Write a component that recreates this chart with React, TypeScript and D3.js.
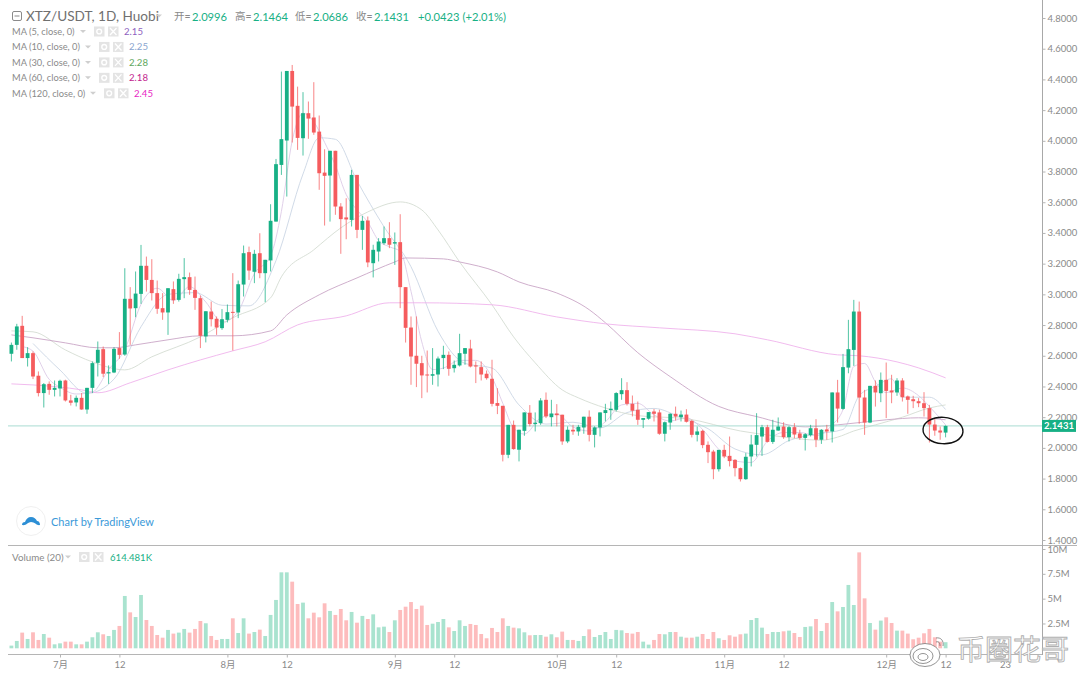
import React, { useEffect, useRef } from "react";
import * as d3 from "d3";

// one value per daily candle
const opens = [
  2.613, 2.671, 2.795, 2.585, 2.617, 2.47, 2.357, 2.417, 2.378, 2.387,
  2.439, 2.309, 2.296, 2.326, 2.25, 2.391, 2.554, 2.643, 2.485, 2.491,
  2.65, 2.608, 2.971, 2.91, 3.003, 3.186, 3.094, 3.008, 2.91, 2.882,
  3.034, 2.964, 3.099, 3.112, 3.029, 2.975, 2.726, 2.888, 2.841, 2.78,
  2.834, 2.886, 2.882, 3.064, 3.275, 3.147, 3.268, 3.138, 3.221, 3.474,
  3.843, 4.002, 4.455, 4.228, 4.017, 4.18, 4.152, 4.06, 3.793, 3.774,
  3.935, 3.572, 3.501, 3.485, 3.778, 3.42, 3.481, 3.203, 3.279, 3.333,
  3.366, 3.331, 3.34, 3.047, 2.784, 2.6, 2.552, 2.478, 2.47, 2.478,
  2.585, 2.606, 2.519, 2.537, 2.613, 2.647, 2.537, 2.526, 2.483, 2.45,
  2.292, 2.274, 1.955, 2.15, 1.988, 2.111, 2.229, 2.155, 2.161, 2.313,
  2.2, 2.224, 2.216, 2.042, 2.118, 2.107, 2.133, 2.203, 2.085, 2.133,
  2.227, 2.246, 2.248, 2.35, 2.376, 2.287, 2.248, 2.183, 2.19, 2.237,
  2.231, 2.092, 2.165, 2.222, 2.2, 2.217, 2.176, 2.085, 2.111, 2.02,
  1.976, 1.861, 1.987, 1.948, 1.922, 1.868, 1.796, 1.944, 2.02, 2.074,
  2.135, 2.039, 2.113, 2.139, 2.07, 2.135, 2.094, 2.065, 2.083, 2.128,
  2.053, 2.12, 2.107, 2.361, 2.254, 2.523, 2.638, 2.888, 2.328, 2.165,
  2.404, 2.356, 2.443, 2.374, 2.361, 2.439, 2.335, 2.317, 2.304, 2.291,
  2.259, 2.152, 2.113, 2.0996,
];
const highs = [
  2.686, 2.808, 2.86, 2.656, 2.628, 2.498, 2.422, 2.433, 2.439, 2.444,
  2.444, 2.346, 2.341, 2.357, 2.391, 2.563, 2.693, 2.66, 2.537, 2.656,
  2.754, 3.17, 3.047, 3.149, 3.322, 3.246, 3.229, 3.09, 3.008, 3.04,
  3.084, 3.134, 3.236, 3.142, 3.116, 2.992, 2.89, 2.953, 2.856, 2.904,
  2.934, 3.138, 3.09, 3.318, 3.311, 3.29, 3.398, 3.225, 3.587, 3.882,
  4.451, 4.455, 4.494, 4.353, 4.317, 4.256, 4.382, 4.165, 3.945, 3.935,
  3.935, 3.594, 3.626, 3.811, 3.778, 3.511, 3.507, 3.323, 3.366, 3.442,
  3.47, 3.403, 3.522, 3.047, 2.856, 2.856, 2.6, 2.634, 2.65, 2.595,
  2.665, 2.628, 2.569, 2.743, 2.65, 2.704, 2.563, 2.563, 2.504, 2.574,
  2.389, 2.274, 2.15, 2.178, 2.118, 2.231, 2.279, 2.231, 2.324, 2.361,
  2.313, 2.285, 2.216, 2.14, 2.15, 2.15, 2.203, 2.244, 2.14, 2.231,
  2.287, 2.302, 2.363, 2.454, 2.428, 2.341, 2.302, 2.194, 2.233, 2.253,
  2.248, 2.172, 2.226, 2.269, 2.243, 2.252, 2.183, 2.139, 2.118, 2.042,
  1.987, 1.987, 2.02, 2.074, 1.927, 1.872, 1.966, 2.085, 2.226, 2.15,
  2.15, 2.183, 2.198, 2.167, 2.144, 2.161, 2.118, 2.096, 2.15, 2.187,
  2.122, 2.15, 2.361, 2.443, 2.612, 2.834, 2.964, 2.953, 2.378, 2.404,
  2.439, 2.491, 2.556, 2.476, 2.454, 2.454, 2.341, 2.339, 2.324, 2.363,
  2.28, 2.194, 2.139, 2.1464,
];
const lows = [
  2.563, 2.639, 2.585, 2.53, 2.448, 2.335, 2.263, 2.346, 2.335, 2.335,
  2.302, 2.276, 2.27, 2.248, 2.222, 2.357, 2.465, 2.461, 2.417, 2.487,
  2.58, 2.6, 2.671, 2.851, 2.938, 3.018, 2.96, 2.873, 2.834, 2.736,
  2.938, 2.953, 2.975, 2.997, 2.899, 2.65, 2.687, 2.791, 2.736, 2.769,
  2.817, 2.634, 2.845, 2.986, 3.094, 3.073, 3.105, 2.949, 3.149, 3.474,
  3.778, 3.637, 3.989, 3.941, 3.904, 4.013, 4.039, 3.681, 3.448, 3.474,
  3.518, 3.264, 3.359, 3.442, 3.366, 3.29, 3.177, 3.11, 3.214, 3.323,
  3.301, 3.192, 2.91, 2.686, 2.411, 2.396, 2.324, 2.361, 2.411, 2.4,
  2.513, 2.47, 2.491, 2.53, 2.541, 2.524, 2.422, 2.439, 2.444, 2.27,
  2.22, 1.912, 1.933, 1.988, 1.912, 2.079, 2.14, 2.107, 2.15, 2.194,
  2.14, 2.14, 2.02, 2.031, 2.085, 2.079, 2.092, 2.042, 2.003, 2.075,
  2.172, 2.183, 2.237, 2.313, 2.276, 2.205, 2.15, 2.129, 2.183, 2.172,
  2.085, 2.042, 2.118, 2.178, 2.172, 2.165, 2.068, 2.042, 1.998, 1.901,
  1.796, 1.846, 1.933, 1.879, 1.814, 1.781, 1.792, 1.879, 1.944, 1.948,
  2.035, 2.026, 2.111, 2.059, 2.042, 2.063, 2.053, 1.983, 2.074, 2.005,
  2.026, 2.053, 2.035, 2.165, 2.248, 2.486, 2.534, 2.157, 2.085, 2.161,
  2.269, 2.298, 2.194, 2.291, 2.339, 2.302, 2.222, 2.259, 2.265, 2.204,
  2.035, 2.079, 2.053, 2.0686,
];
const closes = [
  2.671, 2.791, 2.585, 2.617, 2.465, 2.357, 2.415, 2.378, 2.391, 2.437,
  2.309, 2.294, 2.326, 2.25, 2.391, 2.552, 2.639, 2.483, 2.493, 2.645,
  2.606, 2.971, 2.908, 3.005, 3.186, 3.094, 3.008, 2.906, 2.882, 3.04,
  2.962, 3.101, 3.112, 3.029, 2.977, 2.73, 2.89, 2.838, 2.784, 2.838,
  2.884, 2.882, 3.066, 3.268, 3.155, 3.264, 3.138, 3.225, 3.479, 3.848,
  4.011, 4.455, 4.223, 4.019, 4.18, 4.145, 4.054, 3.789, 3.772, 3.935,
  3.572, 3.49, 3.488, 3.778, 3.42, 3.479, 3.208, 3.29, 3.344, 3.366,
  3.323, 3.34, 3.047, 2.782, 2.595, 2.548, 2.472, 2.472, 2.48, 2.582,
  2.606, 2.515, 2.541, 2.617, 2.65, 2.53, 2.53, 2.478, 2.454, 2.287,
  2.274, 1.955, 2.15, 1.992, 2.118, 2.231, 2.155, 2.164, 2.309, 2.205,
  2.224, 2.213, 2.042, 2.118, 2.107, 2.137, 2.203, 2.085, 2.133, 2.231,
  2.246, 2.255, 2.357, 2.376, 2.287, 2.242, 2.183, 2.194, 2.233, 2.222,
  2.092, 2.167, 2.222, 2.204, 2.217, 2.17, 2.085, 2.107, 2.018, 1.972,
  1.861, 1.987, 1.944, 1.914, 1.868, 1.796, 1.942, 2.022, 2.083, 2.135,
  2.039, 2.118, 2.139, 2.07, 2.135, 2.087, 2.065, 2.089, 2.128, 2.053,
  2.118, 2.107, 2.361, 2.256, 2.526, 2.643, 2.888, 2.328, 2.165, 2.404,
  2.361, 2.443, 2.371, 2.361, 2.439, 2.33, 2.313, 2.304, 2.291, 2.259,
  2.152, 2.113, 2.1, 2.1431,
];
// millions
const volumes = [
  0.27, 0.74, 1.58, 0.94, 1.61, 0.84, 1.44, 1.07, 0.4, 0.5,
  0.67, 0.67, 0.4, 0.4, 0.67, 1.11, 1.61, 1.41, 1.24, 1.85,
  2.25, 5.27, 3.62, 3.15, 5.37, 2.85, 2.25, 1.34, 1.07, 1.85,
  1.48, 1.58, 1.95, 1.58, 1.95, 2.75, 2.52, 1.24, 0.84, 0.94,
  0.94, 3.02, 1.54, 3.02, 1.48, 1.64, 1.88, 1.24, 3.36, 4.87,
  7.65, 7.65, 6.71, 4.46, 4.6, 3.02, 3.59, 3.12, 4.53, 3.76,
  3.36, 3.96, 2.82, 3.66, 2.58, 3.26, 2.95, 3.42, 2.11, 2.18,
  1.64, 2.82, 3.86, 4.19, 4.66, 3.96, 4.3, 2.35, 2.48, 2.65,
  2.95, 2.11, 1.74, 2.82, 2.25, 2.45, 2.35, 1.44, 1.01, 2.05,
  1.64, 3.02, 2.25, 2.08, 2.01, 1.61, 1.31, 1.34, 1.34, 1.17,
  1.41, 1.11, 1.68, 0.84, 0.84, 0.74, 1.24, 1.91, 1.14, 1.34,
  1.64, 0.94, 1.85, 1.81, 1.54, 1.48, 1.64, 0.67, 0.37, 0.84,
  1.44, 1.41, 1.64, 1.64, 1.17, 1.07, 1.07, 1.17, 1.44, 0.94,
  1.64, 1.01, 0.84, 1.31, 1.17, 1.41, 1.48, 2.85, 3.05, 2.08,
  1.44, 1.64, 1.64, 1.71, 1.78, 1.54, 1.14, 2.15, 2.21, 2.95,
  1.74, 2.55, 4.66, 3.72, 4.16, 6.38, 4.36, 9.66, 5.03, 2.55,
  1.88, 2.79, 3.12, 2.55, 1.78, 1.78, 1.48, 0.91, 1.07, 1.51,
  1.95, 1.11, 0.67, 0.614,
];

// moving averages: [candle number, value] read at the visible bends
const ma5: [number, number][] = [
  [2, 2.66], [4, 2.63], [7, 2.446], [9, 2.395], [12, 2.351], [15, 2.363], [18, 2.51], [21, 2.64],
  [24, 2.935], [27, 3.04], [30, 2.96], [33, 3.05], [36, 2.95], [39, 2.82], [42, 2.89], [45, 3.135],
  [48, 3.25], [50, 3.54], [52, 4.0], [54, 4.18], [56, 4.124], [58, 3.99], [60, 3.84], [62, 3.65],
  [64, 3.55], [66, 3.47], [68, 3.35], [70, 3.31], [72, 3.28], [74, 3.02], [76, 2.69], [78, 2.51],
  [80, 2.52], [83, 2.57], [86, 2.57], [89, 2.46], [91, 2.29], [93, 2.13], [95, 2.09], [98, 2.195],
  [101, 2.22], [104, 2.136], [107, 2.11], [110, 2.17], [113, 2.28], [116, 2.29], [119, 2.215],
  [122, 2.175], [125, 2.196], [128, 2.12], [131, 1.99], [134, 1.915], [137, 1.905], [140, 2.044],
  [143, 2.1], [146, 2.1], [149, 2.08], [152, 2.15], [154, 2.25], [156, 2.53], [158, 2.55],
  [160, 2.43], [162, 2.36], [165, 2.39], [168, 2.34], [170, 2.27], [173, 2.15],
];
const ma10: [number, number][] = [
  [4, 2.68], [9, 2.507], [14, 2.355], [19, 2.448], [24, 2.789], [29, 3.0], [34, 3.011], [39, 2.929],
  [44, 2.925], [49, 3.22], [54, 3.784], [57, 4.02], [60, 4.01], [64, 3.74], [69, 3.44], [74, 3.18],
  [79, 2.76], [84, 2.55], [89, 2.52], [94, 2.28], [99, 2.155], [104, 2.167], [109, 2.13], [114, 2.23],
  [119, 2.257], [124, 2.198], [129, 2.125], [134, 1.993], [139, 1.955], [144, 2.048], [149, 2.09],
  [154, 2.12], [157, 2.34], [160, 2.4], [163, 2.45], [165, 2.33], [170, 2.33], [173, 2.25],
];
const ma30: [number, number][] = [
  [0, 2.762], [4, 2.756], [10, 2.638], [15, 2.56], [21, 2.508], [26, 2.593], [35, 2.723], [41, 2.847],
  [48, 2.977], [50, 3.114], [56, 3.29], [61, 3.433], [66, 3.537], [72, 3.602], [76, 3.55], [79, 3.42],
  [83, 3.211], [89, 2.932], [93, 2.723], [97, 2.554], [102, 2.378], [105, 2.326], [110, 2.26],
  [116, 2.21], [125, 2.19], [135, 2.11], [141, 2.08], [150, 2.05], [153, 2.07], [156, 2.11],
  [160, 2.15], [165, 2.2], [170, 2.26], [173, 2.28],
];
const ma60: [number, number][] = [
  [0, 2.736], [4, 2.717], [10, 2.684], [16, 2.652], [19, 2.652], [23, 2.671], [29, 2.704], [35, 2.73],
  [41, 2.73], [48, 2.762], [51, 2.866], [57, 2.997], [64, 3.107], [71, 3.211], [73, 3.237], [80, 3.231],
  [83, 3.211], [90, 3.146], [94, 3.081], [101, 3.009], [107, 2.9], [110, 2.815], [116, 2.62],
  [122, 2.464], [131, 2.27], [138, 2.204], [147, 2.137], [153, 2.15], [162, 2.183], [168, 2.196], [173, 2.183],
];
const ma120: [number, number][] = [
  [0, 2.417], [4, 2.41], [13, 2.378], [16, 2.359], [22, 2.424], [29, 2.508], [35, 2.573], [41, 2.632],
  [47, 2.691], [53, 2.801], [62, 2.86], [70, 2.945], [76, 2.945], [89, 2.932], [101, 2.853], [110, 2.808],
  [120, 2.782], [134, 2.743], [140, 2.704], [153, 2.606], [157, 2.6], [164, 2.56], [168, 2.521], [173, 2.456],
];

const priceTicks = [4.8, 4.6, 4.4, 4.2, 4.0, 3.8, 3.6, 3.4, 3.2, 3.0, 2.8, 2.6, 2.4, 2.2, 2.0, 1.8, 1.6, 1.4];
const volumeTicks = [10, 7.5, 5, 2.5];
const volumeTickLabels = ["10M", "7.5M", "5M", "2.5M"];
const timeTicks = [9, 20, 40, 51, 71, 82, 101, 112, 132, 143, 162, 173, 184];
const timeTickLabels = ["7月", "12", "8月", "12", "9月", "12", "10月", "12", "11月", "12", "12月", "12", "23"];

const maLabels = ["MA (5, close, 0)", "MA (10, close, 0)", "MA (30, close, 0)", "MA (60, close, 0)", "MA (120, close, 0)"];
const maValues = ["2.15", "2.25", "2.28", "2.18", "2.45"];
const maTextColors = ["#8e5fc0", "#8aa5cf", "#5ea85e", "#c2258e", "#e81fc4"];
const maLineColors = ["#dccbe6", "#cbd6e4", "#d5dcd3", "#c9a6c6", "#efb3ec"];

const UP = "#17b085";
const DOWN = "#f55c5e";
const UP_VOL = "#a9e3cf";
const DOWN_VOL = "#fdbcbd";
const GREY = "#8a8a8a";
const FONT = "Lato, 'Noto Sans CJK SC', sans-serif";

const App: React.FC = () => {
  const svgRef = useRef<SVGSVGElement>(null);

  useEffect(() => {
    const svg = d3.select(svgRef.current);
    svg.selectAll("*").remove();

    const x = d3.scaleLinear().domain([0, 173]).range([11.4, 945.6]);
    const y = d3.scaleLinear().domain([1.4, 4.8]).range([540, 18]);
    const yVol = d3.scaleLinear().domain([0, 10]).range([648.3, 549]);
    const bodyW = 3.8;

    svg.append("defs").append("clipPath").attr("id", "plot").append("rect")
      .attr("x", 8).attr("y", 0).attr("width", 1034).attr("height", 677);

    const plot = svg.append("g").attr("clip-path", "url(#plot)");

    // moving averages go under the candles
    const line = d3.line<[number, number]>()
      .x(d => x(d[0]))
      .y(d => y(d[1]))
      .curve(d3.curveMonotoneX);
    [ma5, ma10, ma30, ma60, ma120].forEach((s, k) => {
      plot.append("path")
        .attr("d", line(s))
        .attr("fill", "none")
        .attr("stroke", maLineColors[k])
        .attr("stroke-width", 0.9);
    });

    // last price line
    plot.append("line")
      .attr("x1", 8).attr("x2", 1042)
      .attr("y1", y(closes[173])).attr("y2", y(closes[173]))
      .attr("stroke", "#a9dcd2").attr("stroke-width", 1);

    const idx = d3.range(closes.length);
    const isUp = (i: number) => closes[i] >= opens[i];

    plot.selectAll(".wick").data(idx).enter().append("line")
      .attr("class", "wick")
      .attr("x1", i => x(i)).attr("x2", i => x(i))
      .attr("y1", i => y(highs[i])).attr("y2", i => y(lows[i]))
      .attr("stroke", i => (isUp(i) ? UP : DOWN))
      .attr("stroke-opacity", 0.75)
      .attr("stroke-width", 1);

    plot.selectAll(".body").data(idx).enter().append("rect")
      .attr("class", "body")
      .attr("x", i => x(i) - bodyW / 2)
      .attr("width", bodyW)
      .attr("y", i => y(Math.max(opens[i], closes[i])))
      .attr("height", i => Math.max(1, Math.abs(y(opens[i]) - y(closes[i]))))
      .attr("fill", i => (isUp(i) ? UP : DOWN));

    plot.selectAll(".vol").data(idx).enter().append("rect")
      .attr("class", "vol")
      .attr("x", i => x(i) - bodyW / 2)
      .attr("width", bodyW)
      .attr("y", i => yVol(volumes[i]))
      .attr("height", i => yVol(0) - yVol(volumes[i]))
      .attr("fill", i => (isUp(i) ? UP_VOL : DOWN_VOL));

    // pane borders
    svg.append("line").attr("x1", 8).attr("x2", 1077).attr("y1", 545.5).attr("y2", 545.5)
      .attr("stroke", "#b5b5b5").attr("stroke-width", 1);
    svg.append("line").attr("x1", 8).attr("x2", 1042).attr("y1", 654.5).attr("y2", 654.5)
      .attr("stroke", "#b5b5b5").attr("stroke-width", 1);
    svg.append("line").attr("x1", 1042.5).attr("x2", 1042.5).attr("y1", 0).attr("y2", 655)
      .attr("stroke", "#a8a8a8").attr("stroke-width", 1);

    // axes
    const styleAxis = (g: any) => {
      g.select(".domain").remove();
      g.selectAll("line").attr("stroke", "#b5b5b5");
      g.selectAll("text").attr("fill", GREY).attr("font-size", 9.5).attr("font-family", FONT);
    };
    svg.append("g").attr("transform", "translate(1042.5,0)")
      .call(d3.axisRight(y).tickValues(priceTicks).tickFormat(d3.format(".4f") as any).tickSize(3).tickPadding(2))
      .call(styleAxis);
    svg.append("g").attr("transform", "translate(1042.5,0)")
      .call(d3.axisRight(yVol).tickValues(volumeTicks)
        .tickFormat((_, i) => volumeTickLabels[i]).tickSize(3).tickPadding(2))
      .call(styleAxis);
    svg.append("g").attr("transform", "translate(0,654.5)")
      .call(d3.axisBottom(x).tickValues(timeTicks)
        .tickFormat((_, i) => timeTickLabels[i]).tickSize(3).tickPadding(4))
      .call(styleAxis);

    // last price tag
    svg.append("rect").attr("x", 1042).attr("y", y(closes[173]) - 6).attr("width", 34).attr("height", 12).attr("fill", UP);
    svg.append("text").attr("x", 1059).attr("y", y(closes[173]) + 3.3)
      .attr("text-anchor", "middle").attr("fill", "#fff").attr("font-size", 9.5).attr("font-weight", 700)
      .attr("font-family", FONT).text(closes[173].toFixed(4));

    // circled last candles
    svg.append("ellipse").attr("cx", 943).attr("cy", 430.5).attr("rx", 20).attr("ry", 13.2)
      .attr("transform", "rotate(4 943 430.5)")
      .attr("fill", "none").attr("stroke", "#111").attr("stroke-width", 1.4);

    // header
    const caret = (cx: number, cy: number) =>
      svg.append("path").attr("d", `M${cx - 3},${cy - 1.5}h6l-3,3z`).attr("fill", "#cfcfcf");
    const icons = (ix: number, cy: number) => {
      svg.append("rect").attr("x", ix).attr("y", cy - 5).attr("width", 10.5).attr("height", 10).attr("fill", "#e4e4e4");
      svg.append("circle").attr("cx", ix + 5.2).attr("cy", cy).attr("r", 2.4).attr("fill", "none").attr("stroke", "#fff").attr("stroke-width", 1.4);
      svg.append("rect").attr("x", ix + 14).attr("y", cy - 5).attr("width", 10.5).attr("height", 10).attr("fill", "#e4e4e4");
      svg.append("path").attr("d", `M${ix + 16},${cy - 3.5}l6.5,7M${ix + 22.5},${cy - 3.5}l-6.5,7`).attr("stroke", "#fff").attr("stroke-width", 1.3);
    };
    const label = (tx: number, ty: number, s: string, fill: string, size: number) =>
      svg.append("text").attr("x", tx).attr("y", ty).attr("fill", fill).attr("font-size", size)
        .attr("font-family", FONT).attr("dominant-baseline", "central").text(s);

    svg.append("rect").attr("x", 12.5).attr("y", 11.5).attr("width", 9).attr("height", 9).attr("rx", 1.5)
      .attr("fill", "none").attr("stroke", "#8a8a8a");
    svg.append("line").attr("x1", 14.5).attr("x2", 19.5).attr("y1", 16).attr("y2", 16).attr("stroke", "#8a8a8a");
    label(26, 16, "XTZ/USDT, 1D, Huobi", "#707070", 13.6);
    caret(159, 16);

    const last = closes.length - 1;
    const ohlc = [opens[last], highs[last], lows[last], closes[last]];
    ["开=", "高=", "低=", "收="].forEach((s, k) => {
      const left = [174, 235, 295, 356][k];
      label(left, 16, s, "#8a8a8a", 10.5);
      label(left + 18, 16, ohlc[k].toFixed(4), UP, 11.2);
    });
    label(418, 16, "+0.0423 (+2.01%)", UP, 11.2);

    maLabels.forEach((s, k) => {
      const rowY = 31.5 + k * 15.45;
      const extra = k === 0 ? 0 : k === 4 ? 10 : 5;
      label(12, rowY, s, GREY, 9.3);
      caret(83 + extra, rowY);
      icons(94 + extra, rowY);
      label(124 + extra, rowY, maValues[k], maTextColors[k], 9.6);
    });

    label(12, 557, "Volume (20)", GREY, 9.8);
    caret(68, 557);
    icons(79, 557);
    label(110, 557, "614.481K", UP, 9.6);

    // TradingView badge
    svg.append("circle").attr("cx", 31).attr("cy", 521).attr("r", 14.5).attr("fill", "#fff").attr("stroke", "#f0f0f0");
    svg.append("path")
      .attr("d", "M22,525c0,-2 1,-3 3,-3c1,-3 3,-5 6,-5c3,0 5,2 6,4c2,0 3,2 3,4c-3,1 -5,-3 -9,-3c-3,0 -5,4 -9,3z")
      .attr("fill", "#2d8fd5");
    label(51, 521, "Chart by TradingView", "#3c9ad9", 11);

    // weibo watermark
    const mark = svg.append("g").attr("fill", "none").attr("stroke", "#666").attr("stroke-width", 0.7);
    mark.append("ellipse").attr("cx", 925).attr("cy", 655).attr("rx", 15).attr("ry", 11.5).attr("fill", "#fff");
    mark.append("ellipse").attr("cx", 923).attr("cy", 656).attr("rx", 10).attr("ry", 7.5);
    mark.append("ellipse").attr("cx", 923).attr("cy", 657).attr("rx", 5).attr("ry", 3.5);
    mark.append("path").attr("d", "M936,638c5,-1 8,3 7,8M936,642c3,-1 4,1 4,4");
    svg.append("text").attr("x", 957).attr("y", 660).attr("font-size", 28)
      .attr("font-family", "'Noto Sans CJK SC'").attr("fill", "#fff").attr("stroke", "#b0b0b0").attr("stroke-width", 0.9)
      .text("币圈花哥");
  }, []);

  return <svg ref={svgRef} width={1080} height={677} style={{ position: "absolute", left: 0, top: 0, background: "#fff" }} />;
};

export default App;
